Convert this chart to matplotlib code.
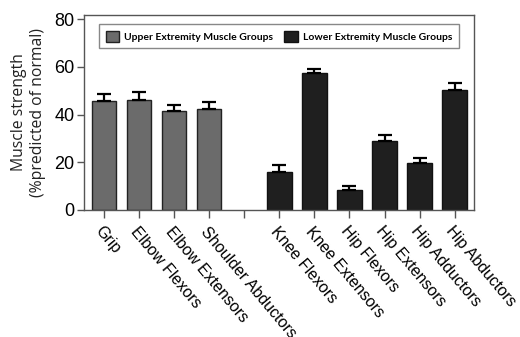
import numpy as np
import matplotlib.pyplot as plt

# data
upper_labels = ["Grip", "Elbow Flexors", "Elbow Extensors", "Shoulder Abductors"]
upper_means = [45.7, 46.0, 41.3, 42.3]
upper_err = [3.1, 3.5, 2.9, 2.8]

lower_labels = ["Knee Flexors", "Knee Extensors", "Hip Flexors",
                "Hip Extensors", "Hip Adductors", "Hip Abductors"]
lower_means = [15.8, 57.5, 8.2, 29.0, 19.8, 50.2]
lower_err = [2.9, 1.8, 1.7, 2.4, 2.1, 3.1]

upper_color = "#6b6b6b"
lower_color = "#1f1f1f"

fig = plt.figure(figsize=(5.2, 3.37), dpi=100)
ax = fig.add_axes([0.1615, 0.377, 0.75, 0.578])

x_upper = np.arange(len(upper_labels))
x_lower = np.arange(len(lower_labels)) + len(upper_labels) + 1

err_kw = dict(capsize=5, elinewidth=1.6, capthick=1.6, ecolor="black")
ax.bar(x_upper, upper_means, width=0.7, color=upper_color, edgecolor="#222222",
       linewidth=1, yerr=[np.zeros(len(upper_err)), upper_err],
       error_kw=err_kw, label="Upper Extremity Muscle Groups")
ax.bar(x_lower, lower_means, width=0.7, color=lower_color, edgecolor="#111111",
       linewidth=1, yerr=[np.zeros(len(lower_err)), lower_err],
       error_kw=err_kw, label="Lower Extremity Muscle Groups")

ticks = list(x_upper) + [len(upper_labels)] + list(x_lower)
labels = upper_labels + [""] + lower_labels
ax.set_xticks(ticks)
ax.set_xticklabels(labels, rotation=-50, ha="left", rotation_mode="anchor",
                   fontsize=11.5, family="Liberation Sans")
ax.set_xlim(-0.57, 10.55)
ax.set_ylim(0, 81.7)
ax.set_yticks([0, 20, 40, 60, 80])
ax.tick_params(axis="y", labelsize=13, length=5, width=1, color="#555555",
               pad=2)
ax.tick_params(axis="x", length=6, width=1, color="#555555", pad=4)
for lab in ax.get_yticklabels():
    lab.set_family("Liberation Sans")

for sp in ax.spines.values():
    sp.set_color("#555555")
    sp.set_linewidth(1)

ax.set_ylabel("Muscle strength\n(%predicted of normal)", fontsize=11.3,
              family="Open Sans", color="#222222", labelpad=6)

leg = ax.legend(ncol=2, loc="upper center", mode="expand",
                bbox_to_anchor=(0.026, 0.83, 0.948, 0.15),
                fancybox=False, edgecolor="#888888", framealpha=1,
                prop={"weight": "bold", "size": 7.5, "family": "Lato"},
                handlelength=1.3, handleheight=1.3, columnspacing=1.5,
                handletextpad=0.5, borderpad=0.6)
leg.get_frame().set_linewidth(1)

fig.savefig("out.png", dpi=100)
